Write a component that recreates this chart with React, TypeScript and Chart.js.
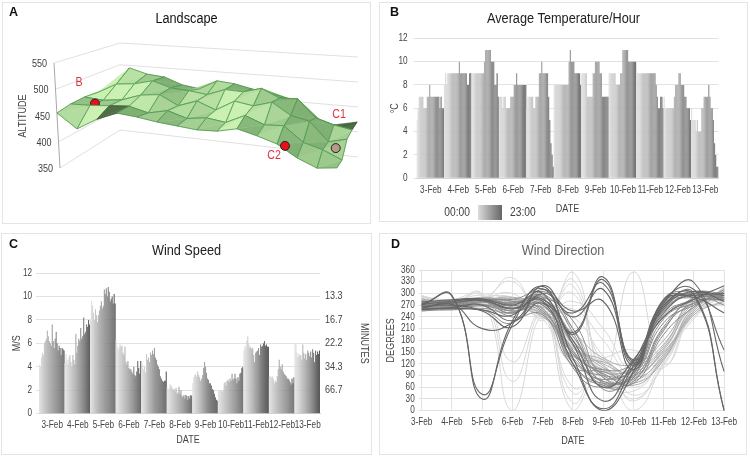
import { useEffect, useRef } from "react"
import { Chart, registerables } from "chart.js"

Chart.register(...registerables)

const FONT = '"Liberation Sans", Arial, sans-serif'
const GRID = "#e2e2e2"
const TICK = "#444444"

const days = ["3-Feb", "4-Feb", "5-Feb", "6-Feb", "7-Feb", "8-Feb", "9-Feb", "10-Feb", "11-Feb", "12-Feb", "13-Feb"]

// Panel A: altitude of the surface, one row per depth step, front row first
const altFront = [455, 431, 456, 474, 473, 470, 469, 468, 472, 483, 476, 467, 447, 434, 441]
const altRow1 = [454, 457, 462, 467, 460, 470, 461, 468, 465, 484, 472, 476, 450, 442, 428]
const altRow2 = [449, 448, 454, 468, 474, 458, 472, 460, 482, 478, 490, 470, 464, 430, 440]
const altRow3 = [440, 460, 465, 475, 466, 465, 462, 476, 476, 487, 473, 476, 444, 435, 430]
const altBack = [426, 472, 464, 462, 451, 447, 466, 464, 458, 454, 448, 433, 410, 404, 417]
const altTicks = [550, 500, 450, 400, 350]
// cells seen from below, col then row
const foldCells = ["2,0", "13,3"]

const siteNames = ["B", "C2", "C1"]
const siteCol = [1.25, 11.4, 13.4]
const siteRow = [1, 0, 2]
const siteAlt = [462, 466, 420]

// Panel B: temperature per hour, 24 values for each day
const temp3 = [5, 6, 7, 7, 7, 7, 6, 6, 6, 7, 7, 8, 7, 7, 7, 7, 7, 7, 7, 7, 6, 7, 6, 6]
const temp4 = [8, 9, 8, 9, 9, 9, 9, 9, 9, 9, 9, 9, 9, 10, 9, 9, 9, 9, 9, 9, 8, 8, 9, 9]
const temp5 = [9, 9, 9, 9, 9, 9, 9, 9, 9, 9, 9, 10, 11, 11, 11, 11, 11, 10, 10, 10, 8, 8, 9, 7]
const temp6 = [7, 7, 7, 6, 7, 7, 6, 6, 6, 6, 7, 7, 7, 8, 8, 9, 8, 8, 8, 8, 8, 8, 8, 8]
const temp7 = [6, 7, 7, 7, 7, 7, 6, 6, 7, 7, 7, 9, 9, 10, 9, 9, 9, 9, 9, 7, 5, 3, 2, 1]
const temp8 = [8, 8, 8, 8, 8, 8, 8, 8, 8, 8, 8, 8, 8, 10, 11, 10, 10, 10, 9, 9, 9, 9, 9, 8]
const temp9 = [9, 9, 9, 9, 9, 7, 7, 7, 7, 7, 9, 9, 10, 10, 10, 10, 9, 9, 7, 7, 7, 7, 7, 7]
const temp10 = [9, 9, 9, 9, 9, 9, 8, 8, 8, 8, 9, 9, 11, 11, 11, 11, 11, 10, 10, 10, 10, 10, 10, 10]
const temp11 = [9, 9, 9, 9, 9, 9, 9, 9, 9, 9, 9, 9, 9, 9, 9, 9, 9, 8, 7, 6, 6, 7, 7, 6]
const temp12 = [7, 6, 6, 6, 6, 6, 6, 6, 6, 7, 8, 8, 8, 9, 9, 8, 8, 8, 7, 7, 6, 6, 6, 5]
const temp13 = [6, 5, 5, 5, 4, 5, 4, 4, 4, 6, 6, 7, 7, 7, 7, 8, 7, 6, 6, 5, 3, 2, 1, 1]
const tempByDay = [temp3, temp4, temp5, temp6, temp7, temp8, temp9, temp10, temp11, temp12, temp13]

// Panel C: wind speed, 26 readings for each day
const wind3 = [4.2, 4.0, 4.8, 5.2, 5.0, 6.0, 6.2, 6.4, 7.1, 6.6, 6.2, 6.0, 5.8, 7.6, 6.2, 5.6, 6.4, 7.0, 6.0, 5.4, 5.8, 5.6, 5.0, 5.6, 5.5, 5.4]
const wind4 = [4.3, 5.1, 4.6, 4.2, 4.8, 5.0, 4.4, 4.0, 5.0, 4.6, 4.2, 6.8, 5.2, 5.8, 6.4, 6.2, 7.3, 6.4, 6.6, 8.2, 6.8, 7.0, 7.6, 7.4, 8.0, 7.6]
const wind5 = [8.0, 9.6, 9.2, 8.6, 8.0, 8.9, 8.4, 7.8, 8.4, 8.8, 9.2, 9.6, 9.0, 9.2, 10.6, 10.2, 10.7, 10.0, 10.8, 10.4, 9.6, 9.8, 10.0, 9.4, 10.2, 9.4]
const wind6 = [6.3, 5.8, 5.4, 5.6, 5.9, 5.7, 5.8, 5.2, 5.0, 5.7, 4.4, 4.2, 4.5, 3.9, 3.8, 3.8, 3.6, 3.4, 4.0, 3.3, 3.2, 3.6, 4.5, 3.9, 3.4, 4.5]
const wind7 = [3.6, 4.2, 3.8, 4.0, 3.5, 5.1, 4.6, 4.8, 4.4, 5.2, 5.0, 5.4, 5.1, 5.6, 4.8, 4.6, 4.2, 4.0, 3.8, 3.2, 3.0, 2.8, 2.7, 2.8, 2.8, 3.6]
const wind8 = [2.3, 2.0, 2.2, 2.5, 2.4, 2.2, 2.0, 2.1, 1.9, 2.2, 1.7, 1.8, 2.3, 1.7, 2.0, 1.5, 1.4, 1.6, 1.3, 1.6, 1.5, 1.2, 1.5, 1.3, 1.6, 1.5]
const wind9 = [2.6, 3.1, 3.3, 3.4, 3.2, 3.6, 3.3, 3.1, 2.8, 3.0, 3.3, 3.9, 4.4, 4.0, 3.5, 3.0, 2.9, 2.6, 2.6, 2.4, 2.1, 2.0, 1.7, 1.4, 1.2, 1.1]
const wind10 = [2.0, 2.0, 2.0, 2.0, 1.9, 2.0, 2.6, 2.7, 2.4, 2.8, 2.9, 2.7, 3.0, 2.8, 3.4, 2.9, 3.0, 3.4, 3.0, 2.6, 3.1, 2.8, 3.4, 3.5, 3.9, 4.0]
const wind11 = [5.4, 5.8, 5.6, 6.2, 6.6, 5.9, 5.6, 5.7, 5.5, 5.6, 5.0, 4.4, 5.2, 5.3, 5.4, 5.6, 5.0, 5.9, 5.7, 5.8, 6.0, 6.2, 5.8, 5.9, 5.7, 5.7]
const wind12 = [3.2, 3.2, 3.1, 3.2, 3.0, 2.6, 2.8, 2.7, 3.2, 3.8, 4.6, 4.0, 3.8, 4.2, 3.6, 3.4, 3.3, 3.2, 3.0, 3.0, 2.9, 2.7, 2.5, 3.0, 2.6, 3.1]
const wind13 = [6.0, 5.9, 5.2, 4.8, 5.1, 4.9, 5.0, 4.6, 5.9, 5.2, 4.7, 5.1, 4.6, 5.4, 5.2, 4.9, 5.3, 4.8, 5.5, 5.2, 4.4, 5.4, 5.0, 5.3, 5.1, 5.4]
const windByDay = [wind3, wind4, wind5, wind6, wind7, wind8, wind9, wind10, wind11, wind12, wind13]
const minuteTicks: Record<number, string> = { 10: "13.3", 8: "16.7", 6: "22.2", 4: "34.3", 2: "66.7" }

// Panel D: wind direction, one list per hour trace, grouped by grey shade
const dirLight = [
  [285, 280, 290, 0, 240, 0, 100, 30, 120, 250, 290],
  [290, 285, 295, 75, 250, 45, 110, 25, 130, 240, 285],
  [292, 275, 300, 125, 255, 60, 95, 0, 125, 260, 300],
  [285, 270, 280, 340, 230, 355, 90, 50, 140, 255, 295],
  [280, 268, 285, 330, 235, 335, 100, 355, 120, 250, 280],
  [295, 272, 285, 300, 240, 320, 70, 70, 130, 245, 295],
  [288, 275, 290, 290, 250, 300, 120, 80, 135, 270, 300],
  [282, 265, 275, 285, 240, 280, 210, 100, 150, 265, 310],
  [276, 262, 270, 280, 245, 260, 180, 90, 160, 275, 290],
  [290, 278, 290, 275, 255, 240, 140, 60, 140, 235, 305],
  [293, 282, 296, 285, 265, 20, 130, 40, 115, 250, 275],
  [270, 270, 280, 290, 235, 120, 135, 155, 110, 255, 300],
]
const dirMid = [
  [280, 272, 285, 285, 275, 180, 110, 90, 150, 250, 305],
  [275, 268, 280, 280, 270, 170, 120, 100, 160, 270, 300],
  [270, 265, 278, 290, 262, 160, 130, 85, 140, 260, 310],
  [284, 274, 288, 275, 280, 190, 100, 110, 170, 280, 295],
  [278, 270, 282, 285, 255, 150, 95, 70, 130, 265, 290],
  [272, 262, 276, 270, 250, 200, 135, 120, 180, 285, 300],
  [286, 276, 290, 280, 285, 210, 85, 75, 145, 255, 315],
  [268, 262, 272, 262, 245, 140, 125, 95, 155, 275, 285],
  [282, 272, 286, 265, 240, 165, 105, 105, 165, 290, 295],
  [274, 266, 280, 255, 265, 175, 115, 65, 135, 245, 280],
]
const dirMidDark = [
  [272, 272, 282, 272, 285, 190, 85, 85, 215, 285, 300],
  [268, 268, 278, 268, 280, 170, 75, 95, 235, 275, 295],
  [262, 266, 270, 262, 270, 155, 65, 75, 205, 290, 290],
  [276, 270, 284, 276, 290, 130, 90, 105, 245, 280, 285],
  [265, 260, 268, 255, 260, 120, 70, 90, 225, 270, 305],
  [258, 258, 262, 250, 275, 110, 60, 115, 255, 295, 280],
  [280, 278, 284, 280, 255, 145, 95, 70, 195, 265, 310],
  [270, 274, 285, 285, 300, 200, 55, 100, 265, 300, 290],
  [262, 264, 272, 240, 245, 135, 80, 125, 240, 285, 295],
  [255, 260, 258, 225, 305, 210, 70, 110, 270, 300, 270],
  [272, 276, 285, 270, 250, 115, 100, 80, 210, 275, 285],
  [276, 282, 280, 250, 295, 150, 105, 125, 255, 300, 285],
  [268, 275, 282, 275, 290, 230, 90, 110, 275, 300, 285],
  [270, 278, 280, 255, 270, 145, 75, 95, 270, 290, 290],
  [274, 282, 284, 250, 290, 120, 65, 85, 285, 305, 300],
]
const dirDark = [
  [270, 295, 30, 230, 312, 200, 342, 125, 265, 300, 0],
  [272, 293, 42, 220, 318, 195, 335, 120, 270, 295, 0],
  [262, 272, 210, 225, 300, 250, 325, 130, 275, 328, 100],
  [265, 270, 255, 215, 320, 240, 310, 115, 280, 310, 155],
  [260, 262, 258, 245, 310, 255, 280, 105, 285, 290, 250],
  [272, 280, 284, 260, 285, 170, 25, 125, 260, 305, 280],
  [278, 284, 286, 270, 300, 135, 0, 100, 280, 295, 300],
  [266, 276, 282, 262, 280, 120, 5, 115, 250, 300, 295],
  [258, 264, 270, 230, 275, 180, 60, 130, 240, 285, 320],
]

// canvas boxes in page pixels
const boxA = { left: 3, top: 3, width: 367, height: 220 }
const boxB = { left: 380, top: 3, width: 367, height: 218 }
const boxC = { left: 2, top: 234, width: 369, height: 220 }
const boxD = { left: 380, top: 234, width: 366, height: 220 }

const letters = [
  { text: "A", left: 9, top: 5 },
  { text: "B", left: 390, top: 5 },
  { text: "C", left: 9, top: 237 },
  { text: "D", left: 391, top: 237 },
]

// the source figure uses a narrow sans that is not installed, so squeeze the text
function condense(canvas: HTMLCanvasElement, factor: number) {
  const ctx: any = canvas.getContext("2d")
  const draw = ctx.fillText.bind(ctx)
  ctx.fillText = (text: string, x: number, y: number, maxWidth?: number) => {
    ctx.save()
    ctx.translate(x, y)
    ctx.scale(factor, 1)
    if (maxWidth === undefined) draw(text, 0, 0)
    else draw(text, 0, 0, maxWidth / factor)
    ctx.restore()
  }
  return canvas
}

function grey(from: number, to: number, t: number) {
  const v = Math.round(from + (to - from) * t)
  return `rgb(${v},${v},${v})`
}

function dayColors(byDay: number[][], from: number, to: number) {
  return byDay.flatMap((vals) => vals.map((_, k) => grey(from, to, k / (vals.length - 1))))
}

function dayLabels(byDay: number[][]) {
  return byDay.flatMap((vals, d) => vals.map(() => days[d]))
}

function titleOpts(text: string, color: string, areaTop: number, centerY: number) {
  const size = 15.5
  const h = size * 1.2
  const top = centerY - h / 2
  return { display: true, text, color, font: { size, weight: "normal" as const, family: FONT }, padding: { top, bottom: areaTop - top - h } }
}

// surface geometry of panel A, everything in page pixels
const lerp = (a: number, b: number, t: number) => a + (b - a) * t
function project(col: number, row: number, alt: number) {
  const x = lerp(57 + 20 * col, 112 + 17.5 * col, row / 4)
  const floor = lerp(168 + 3.4 * col, 130 + 1.95 * col, row / 4)
  return { x, y: floor - (alt - 350) * 0.525 }
}

const surfaceRows = [altFront, altRow1, altRow2, altRow3, altBack]

function shadeTriangle(a: number[], b: number[], c: number[]) {
  const ux = b[0] - a[0], uy = b[1] - a[1], uz = b[2] - a[2]
  const vx = c[0] - a[0], vy = c[1] - a[1], vz = c[2] - a[2]
  let nx = uy * vz - uz * vy, ny = uz * vx - ux * vz, nz = ux * vy - uy * vx
  const len = Math.hypot(nx, ny, nz) || 1
  nx /= len; ny /= len; nz /= len
  if (nz < 0) { nx = -nx; ny = -ny; nz = -nz }
  const lit = Math.max(0, Math.min(1, 0.55 - nx * 1.1 - ny * 0.9))
  const r = Math.round(lerp(128, 202, lit))
  const g = Math.round(lerp(176, 240, lit))
  const bl = Math.round(lerp(116, 178, lit))
  return `rgb(${r},${g},${bl})`
}

function drawSurfaceRows(chart: any, fromRow: number, toRow: number) {
  const { ctx, scales } = chart
  const px = (p: { x: number; y: number }) => [scales.x.getPixelForValue(p.x), scales.y.getPixelForValue(p.y)]
  const world = (i: number, j: number) => [i * 20, j * 14, (surfaceRows[j][i] - 350) * 0.8]
  const pt = (i: number, j: number) => px(project(i, j, surfaceRows[j][i]))
  ctx.save()
  ctx.lineJoin = "round"
  for (let j = fromRow; j >= toRow; j--) {
    for (let i = 0; i < surfaceRows[j].length - 1; i++) {
      const tris = [
        [[i, j], [i + 1, j], [i + 1, j + 1]],
        [[i, j], [i + 1, j + 1], [i, j + 1]],
      ]
      const fold = foldCells.includes(`${i},${j}`)
      for (const tri of tris) {
        const [a, b, c] = tri.map(([m, n]) => pt(m, n))
        const [wa, wb, wc] = tri.map(([m, n]) => world(m, n))
        const fill = fold ? "#4f6e46" : shadeTriangle(wa, wb, wc)
        ctx.fillStyle = fill
        ctx.strokeStyle = fill
        ctx.lineWidth = 0.5
        ctx.beginPath()
        ctx.moveTo(a[0], a[1])
        ctx.lineTo(b[0], b[1])
        ctx.lineTo(c[0], c[1])
        ctx.closePath()
        ctx.fill()
        ctx.stroke()
      }
      const q = [pt(i, j), pt(i + 1, j), pt(i + 1, j + 1), pt(i, j + 1)]
      ctx.strokeStyle = fold ? "#3f5a38" : "#4a964c"
      ctx.lineWidth = 0.8
      ctx.beginPath()
      q.forEach((p, k) => (k ? ctx.lineTo(p[0], p[1]) : ctx.moveTo(p[0], p[1])))
      ctx.closePath()
      ctx.stroke()
    }
  }
  ctx.restore()
}

// back rows go under marker B, front rows over it, the other markers sit on top
const surfacePlugin = {
  id: "surface",
  beforeDatasetDraw(chart: any, args: any) {
    if (args.index === 1) drawSurfaceRows(chart, 3, 1)
  },
  afterDatasetDraw(chart: any, args: any) {
    if (args.index === 1) drawSurfaceRows(chart, 0, 0)
  },
}

const wallsPlugin = {
  id: "walls",
  beforeDatasetsDraw(chart: any) {
    const { ctx, scales } = chart
    const X = (v: number) => scales.x.getPixelForValue(v)
    const Y = (v: number) => scales.y.getPixelForValue(v)
    const front = (alt: number) => [60 - (alt - 350) * 0.03, 168 - (alt - 350) * 0.525]
    const backL = (alt: number) => [120, 130 - (alt - 350) * 0.435]
    const backR = (alt: number) => [358, 157 - (alt - 350) * 0.5]
    ctx.save()
    ctx.strokeStyle = "#e0e0e0"
    ctx.lineWidth = 1
    for (const alt of altTicks) {
      const [a, b, c] = [front(alt), backL(alt), backR(alt)]
      ctx.beginPath()
      ctx.moveTo(X(a[0]), Y(a[1]))
      ctx.lineTo(X(b[0]), Y(b[1]))
      ctx.lineTo(X(c[0]), Y(c[1]))
      ctx.stroke()
    }
    ctx.strokeStyle = "#a8a8a8"
    ctx.beginPath()
    ctx.moveTo(X(front(550)[0]), Y(front(550)[1]))
    ctx.lineTo(X(front(350)[0]), Y(front(350)[1]))
    ctx.stroke()
    ctx.fillStyle = "#404040"
    ctx.font = `11px ${FONT}`
    ctx.textAlign = "right"
    ctx.textBaseline = "middle"
    for (const alt of altTicks) {
      const a = front(alt)
      ctx.fillText(String(alt), X(a[0] - 7), Y(a[1] + 1))
    }
    ctx.save()
    ctx.translate(X(23), Y(116))
    ctx.rotate(-Math.PI / 2)
    ctx.textAlign = "center"
    ctx.fillText("ALTITUDE", 0, 0)
    ctx.restore()
    ctx.restore()
  },
  afterDatasetsDraw(chart: any) {
    const { ctx, scales } = chart
    const X = (v: number) => scales.x.getPixelForValue(v)
    const Y = (v: number) => scales.y.getPixelForValue(v)
    ctx.save()
    ctx.fillStyle = "#e0303f"
    ctx.font = `13px ${FONT}`
    ctx.textAlign = "center"
    ctx.textBaseline = "middle"
    const at = [[79, 82], [274, 155], [339, 114]]
    siteNames.forEach((name, k) => ctx.fillText(name, X(at[k][0]), Y(at[k][1])))
    ctx.restore()
  },
}

const legendPlugin = {
  id: "hourLegend",
  afterDraw(chart: any) {
    const { ctx } = chart
    const x0 = 478 - boxB.left
    const y0 = 205 - boxB.top
    const grad = ctx.createLinearGradient(x0, 0, x0 + 24, 0)
    grad.addColorStop(0, "#dddddd")
    grad.addColorStop(0.5, "#a0a0a0")
    grad.addColorStop(1, "#666666")
    ctx.save()
    ctx.fillStyle = grad
    ctx.fillRect(x0, y0, 24, 15)
    ctx.fillStyle = "#404040"
    ctx.font = `12.5px ${FONT}`
    ctx.textBaseline = "middle"
    ctx.textAlign = "right"
    ctx.fillText("00:00", x0 - 8, y0 + 8)
    ctx.textAlign = "left"
    ctx.fillText("23:00", x0 + 8 + 24, y0 + 8)
    ctx.restore()
  },
}

// panel C has its DATE off the middle of the axis
const dateLabelPlugin = {
  id: "dateLabel",
  afterDraw(chart: any) {
    const { ctx } = chart
    ctx.save()
    ctx.fillStyle = TICK
    ctx.font = `11px ${FONT}`
    ctx.textAlign = "center"
    ctx.textBaseline = "middle"
    ctx.fillText("DATE", 188 - boxC.left, 440 - boxC.top)
    ctx.restore()
  },
}

function makeA(canvas: HTMLCanvasElement) {
  const sites = siteNames.map((_, k) => project(siteCol[k], siteRow[k], siteAlt[k]))
  const areaTop = 35
  return new Chart(canvas, {
    type: "scatter",
    data: {
      datasets: [
        {
          label: "C",
          data: sites.slice(1),
          pointRadius: 4.5,
          pointBorderWidth: 1,
          pointBorderColor: "#222222",
          pointBackgroundColor: ["#e8101c", "#b39c86"],
        },
        {
          label: "B",
          data: sites.slice(0, 1),
          pointRadius: 4.5,
          pointBorderWidth: 1,
          pointBorderColor: "#222222",
          pointBackgroundColor: "#e8101c",
        },
      ],
    } as any,
    options: {
      responsive: false,
      animation: false,
      layout: { padding: 0, autoPadding: false },
      scales: {
        x: { type: "linear", display: false, min: boxA.left, max: boxA.left + boxA.width },
        y: { type: "linear", display: false, reverse: true, min: boxA.top + areaTop, max: boxA.top + boxA.height },
      },
      plugins: {
        legend: { display: false },
        tooltip: { enabled: false },
        title: titleOpts("Landscape", "#111111", areaTop, 16),
      },
    } as any,
    plugins: [wallsPlugin, surfacePlugin],
  })
}

function barChart(
  canvas: HTMLCanvasElement,
  box: { width: number; height: number },
  area: { l: number; t: number; r: number; b: number },
  axisH: number,
  title: any,
  labels: string[],
  values: number[],
  colors: string[],
  perDay: number,
  yTitle: string,
  yPad: number,
  xTitle: any,
  rightAxis: any,
  plugins: any[],
) {
  return new Chart(canvas, {
    type: "bar",
    data: {
      labels,
      datasets: [{ data: values, backgroundColor: colors, barPercentage: 1.1, categoryPercentage: 1 }],
    },
    options: {
      responsive: false,
      animation: false,
      layout: { padding: { left: 0, right: 0, top: 0, bottom: box.height - area.b - axisH } },
      scales: {
        x: {
          grid: { display: false, drawTicks: false },
          border: { display: true, color: "#d4d4d4" },
          afterFit: (s: any) => { s.height = axisH },
          ticks: {
            autoSkip: false,
            maxRotation: 0,
            minRotation: 0,
            padding: 6,
            color: TICK,
            font: { size: 10, family: FONT },
            callback: (_: any, i: number) => (i % perDay === Math.floor(perDay / 2) ? days[Math.floor(i / perDay)] : ""),
          },
          title: xTitle,
        },
        y: {
          min: 0,
          max: 12,
          afterFit: (s: any) => { s.width = area.l },
          grid: { color: GRID, tickLength: 3 },
          border: { display: false },
          ticks: { stepSize: 2, color: TICK, padding: yPad, font: { size: 10, family: FONT } },
          title: { display: true, text: yTitle, color: TICK, font: { size: 11, family: FONT }, padding: { top: 8, bottom: 0 } },
        },
        y2: rightAxis,
      },
      plugins: { legend: { display: false }, tooltip: { enabled: false }, title },
    } as any,
    plugins,
  })
}

function emptyRightAxis(width: number) {
  return {
    position: "right",
    afterFit: (s: any) => { s.width = width },
    grid: { display: false, drawTicks: false },
    border: { display: false },
    ticks: { display: false },
  }
}

function makeB(canvas: HTMLCanvasElement) {
  const area = { l: 36.5, t: 35.3, r: 338.5, b: 175.3 }
  return barChart(
    canvas, boxB, area, 37,
    titleOpts("Average Temperature/Hour", "#222222", area.t, 16),
    dayLabels(tempByDay), tempByDay.flat(), dayColors(tempByDay, 224, 118), 24,
    "°C", 6,
    { display: true, text: "DATE", color: TICK, font: { size: 11, family: FONT }, padding: 0 },
    emptyRightAxis(boxB.width - area.r), [legendPlugin],
  )
}

function makeC(canvas: HTMLCanvasElement) {
  const area = { l: 37, t: 39, r: 318, b: 179.7 }
  return barChart(
    canvas, boxC, area, 36,
    titleOpts("Wind Speed", "#222222", area.t, 17),
    dayLabels(windByDay), windByDay.flat(), dayColors(windByDay, 226, 90), 26,
    "M/S", 4,
    { display: false },
    {
      position: "right",
      min: 0,
      max: 12,
      afterFit: (s: any) => { s.width = boxC.width - area.r },
      grid: { display: false, drawTicks: false },
      border: { display: false },
      ticks: {
        stepSize: 2,
        padding: 5,
        color: TICK,
        font: { size: 11, family: FONT },
        callback: (v: number) => minuteTicks[v] ?? "",
      },
      title: { display: true, text: "MINUTES", color: TICK, font: { size: 11, family: FONT }, padding: { top: 0, bottom: 16 } },
    },
    [dateLabelPlugin],
  )
}

function makeD(canvas: HTMLCanvasElement) {
  const area = { l: 41.7, t: 36, r: 347.7, b: 176.7 }
  const traces = [
    ...dirDark.map((data) => ({ data, borderColor: "#666666", borderWidth: 1.1 })),
    ...dirMidDark.map((data) => ({ data, borderColor: "#8a8a8a", borderWidth: 1 })),
    ...dirMid.map((data) => ({ data, borderColor: "#afafaf", borderWidth: 1 })),
    ...dirLight.map((data) => ({ data, borderColor: "#d8d8d8", borderWidth: 1 })),
  ]
  const axisH = 37
  return new Chart(canvas, {
    type: "line",
    data: { labels: days, datasets: traces },
    options: {
      responsive: false,
      animation: false,
      elements: { point: { radius: 0 }, line: { tension: 0.5 } },
      layout: { padding: { left: 0, right: 0, top: 0, bottom: boxD.height - area.b - axisH } },
      scales: {
        x: {
          afterFit: (s: any) => { s.height = axisH },
          grid: { color: GRID, drawTicks: false },
          border: { display: false },
          ticks: { maxRotation: 0, autoSkip: false, padding: 6, color: TICK, font: { size: 10, family: FONT } },
          title: { display: true, text: "DATE", color: TICK, font: { size: 11, family: FONT }, padding: 0 },
        },
        y: {
          min: 0,
          max: 360,
          afterFit: (s: any) => { s.width = area.l },
          grid: { color: GRID, tickLength: 3 },
          border: { display: false },
          ticks: { stepSize: 30, color: TICK, padding: 4, autoSkip: false, font: { size: 10, family: FONT } },
          title: { display: true, text: "DEGREES", color: TICK, font: { size: 11, family: FONT }, padding: { top: 4, bottom: 0 } },
        },
        y2: emptyRightAxis(boxD.width - area.r),
      },
      plugins: {
        legend: { display: false },
        tooltip: { enabled: false },
        title: titleOpts("Wind Direction", "#666666", area.t, 17),
      },
    } as any,
  })
}

export default function App() {
  const refA = useRef<HTMLCanvasElement>(null)
  const refB = useRef<HTMLCanvasElement>(null)
  const refC = useRef<HTMLCanvasElement>(null)
  const refD = useRef<HTMLCanvasElement>(null)

  useEffect(() => {
    const squeeze = 0.82
    const charts = [
      makeA(condense(refA.current!, squeeze)),
      makeB(condense(refB.current!, squeeze)),
      makeC(condense(refC.current!, squeeze)),
      makeD(condense(refD.current!, squeeze)),
    ]
    return () => charts.forEach((c) => c.destroy())
  }, [])

  const panels = [
    { box: boxA, ref: refA },
    { box: boxB, ref: refB },
    { box: boxC, ref: refC },
    { box: boxD, ref: refD },
  ]

  return (
    <div style={{ position: "absolute", left: 0, top: 0, width: 750, height: 457, background: "#fff", overflow: "hidden" }}>
      {panels.map(({ box, ref }, i) => (
        <canvas
          key={i}
          ref={ref}
          width={box.width}
          height={box.height}
          style={{ position: "absolute", left: box.left, top: box.top, width: box.width, height: box.height, outline: "1px solid #e4e4e4", filter: "blur(0.35px)" }}
        />
      ))}
      {letters.map((l) => (
        <div key={l.text} style={{ position: "absolute", left: l.left, top: l.top, font: 'bold 12.5px "Liberation Sans", Arial, sans-serif', color: "#111" }}>
          {l.text}
        </div>
      ))}
    </div>
  )
}
